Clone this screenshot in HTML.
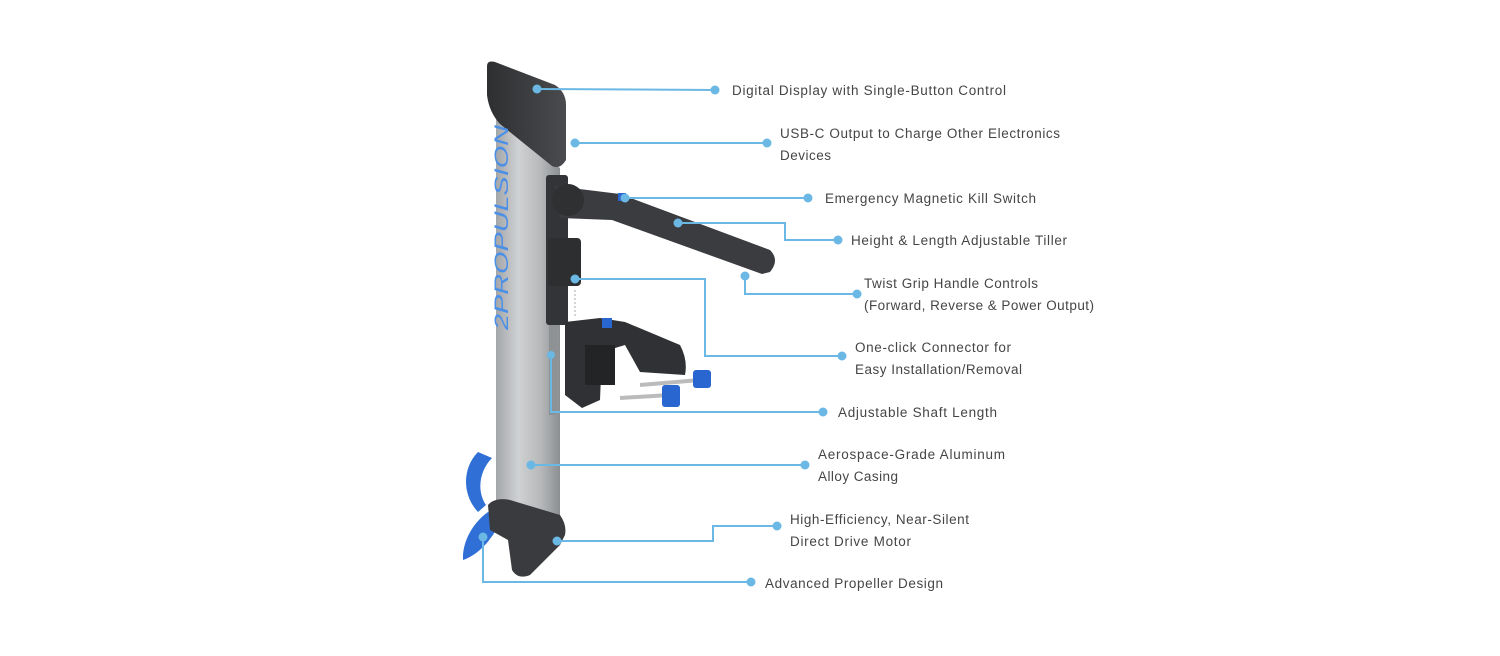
<!DOCTYPE html>
<html><head><meta charset="utf-8"><style>
html,body{margin:0;padding:0;background:#fff;width:1500px;height:656px;overflow:hidden}
svg{display:block}
text{font-family:"Liberation Sans",sans-serif;font-size:13.5px;fill:#454545}
</style></head><body>
<svg width="1500" height="656" viewBox="0 0 1500 656">
<defs>
<linearGradient id="sil" x1="0" x2="1" y1="0" y2="0">
<stop offset="0" stop-color="#a3a6a9"/><stop offset="0.35" stop-color="#cfd1d3"/><stop offset="0.7" stop-color="#b6b8ba"/><stop offset="1" stop-color="#8c8f92"/>
</linearGradient>
<linearGradient id="dk" x1="0" x2="1"><stop offset="0" stop-color="#2e2f31"/><stop offset="1" stop-color="#4a4b4e"/></linearGradient>
</defs>
<!-- propeller -->
<path d="M478,452 C462,468 462,495 478,512 L486,505 C476,490 480,470 492,458 Z" fill="#2f6fd6"/>
<path d="M488,512 C470,525 462,545 463,560 C478,555 492,540 500,522 Z" fill="#2f6fd6"/>
<!-- body -->
<path d="M496,118 L560,168 L560,515 L496,515 Z" fill="url(#sil)"/>
<!-- top cap -->
<path d="M487,66 Q487,60 495,62 L555,85 Q566,92 566,105 L566,160 Q560,170 552,166 L500,124 Q489,112 487,95 Z" fill="url(#dk)"/>
<!-- rotated brand text -->
<text transform="translate(508,330) rotate(-90)" style="font-size:19px;font-style:italic;fill:#4a8fe8" textLength="205" lengthAdjust="spacingAndGlyphs">2PROPULSION</text>
<!-- bottom foot -->
<path d="M488,505 Q495,497 510,500 L560,515 Q567,525 565,535 L560,545 L530,575 Q518,580 512,570 L508,540 L490,530 Z" fill="#3a3b3e"/>
<!-- side bracket -->
<rect x="546" y="175" width="22" height="150" rx="3" fill="#333437"/>
<rect x="548" y="238" width="33" height="48" rx="4" fill="#2d2e30"/>
<!-- tiller -->
<path d="M555,186 L620,194 L770,250 Q780,260 770,272 L762,274 L612,220 L560,218 Z" fill="#3b3c3f"/>
<circle cx="568" cy="200" r="16" fill="#2f3032"/>
<rect x="618" y="193" width="8" height="8" fill="#2a66d0"/>
<!-- shaft -->
<rect x="549" y="325" width="8" height="90" fill="#8f9295"/>
<!-- clamp -->
<path d="M565,322 L600,318 L625,322 L680,345 Q688,360 685,375 L640,372 L625,345 L602,352 L600,400 L582,408 L565,395 Z" fill="#303134"/>
<rect x="585" y="345" width="30" height="40" fill="#232426"/>
<rect x="602" y="318" width="10" height="10" fill="#2a66d0"/>
<line x1="640" y1="385" x2="700" y2="380" stroke="#bbb" stroke-width="4"/>
<line x1="620" y1="398" x2="670" y2="395" stroke="#bbb" stroke-width="4"/>
<rect x="693" y="370" width="18" height="18" rx="3" fill="#2a66d0"/>
<rect x="662" y="385" width="18" height="22" rx="3" fill="#2a66d0"/>
<line x1="575" y1="290" x2="575" y2="318" stroke="#aaa" stroke-dasharray="2,2"/>
<!-- connectors -->
<g stroke="#6ab8e3" stroke-width="2" fill="none">
<polyline points="537,89 715,90"/>
<polyline points="575,143 767,143"/>
<polyline points="625,198 808,198"/>
<polyline points="678,223 785,223 785,240 838,240"/>
<polyline points="745,276 745,294 857,294"/>
<polyline points="575,279 705,279 705,356 842,356"/>
<polyline points="551,355 551,412 823,412"/>
<polyline points="531,465 805,465"/>
<polyline points="557,541 713,541 713,526 777,526"/>
<polyline points="483,537 483,582 751,582"/>
</g>
<g fill="#6ab8e3">
<circle cx="537" cy="89" r="4.5"/><circle cx="715" cy="90" r="4.5"/>
<circle cx="575" cy="143" r="4.5"/><circle cx="767" cy="143" r="4.5"/>
<circle cx="625" cy="198" r="4.5"/><circle cx="808" cy="198" r="4.5"/>
<circle cx="678" cy="223" r="4.5"/><circle cx="838" cy="240" r="4.5"/>
<circle cx="745" cy="276" r="4.5"/><circle cx="857" cy="294" r="4.5"/>
<circle cx="575" cy="279" r="4.5"/><circle cx="842" cy="356" r="4.5"/>
<circle cx="551" cy="355" r="4"/><circle cx="823" cy="412" r="4.5"/>
<circle cx="531" cy="465" r="4.5"/><circle cx="805" cy="465" r="4.5"/>
<circle cx="557" cy="541" r="4.5"/><circle cx="777" cy="526" r="4.5"/>
<circle cx="483" cy="537" r="4.5"/><circle cx="751" cy="582" r="4.5"/>
</g>
<!-- labels -->
<text x="732" y="95" textLength="274">Digital Display with Single-Button Control</text>
<text x="780" y="138" textLength="280">USB-C Output to Charge Other Electronics</text>
<text x="780" y="160" textLength="51">Devices</text>
<text x="825" y="203" textLength="211">Emergency Magnetic Kill Switch</text>
<text x="851" y="245" textLength="216">Height &amp; Length Adjustable Tiller</text>
<text x="864" y="288" textLength="174">Twist Grip Handle Controls</text>
<text x="864" y="310" textLength="230">(Forward, Reverse &amp; Power Output)</text>
<text x="855" y="352" textLength="156">One-click Connector for</text>
<text x="855" y="374" textLength="167">Easy Installation/Removal</text>
<text x="838" y="417" textLength="159">Adjustable Shaft Length</text>
<text x="818" y="459" textLength="187">Aerospace-Grade Aluminum</text>
<text x="818" y="481" textLength="80">Alloy Casing</text>
<text x="790" y="524" textLength="179">High-Efficiency, Near-Silent</text>
<text x="790" y="546" textLength="121">Direct Drive Motor</text>
<text x="765" y="588" textLength="178">Advanced Propeller Design</text>
</svg>
</body></html>
